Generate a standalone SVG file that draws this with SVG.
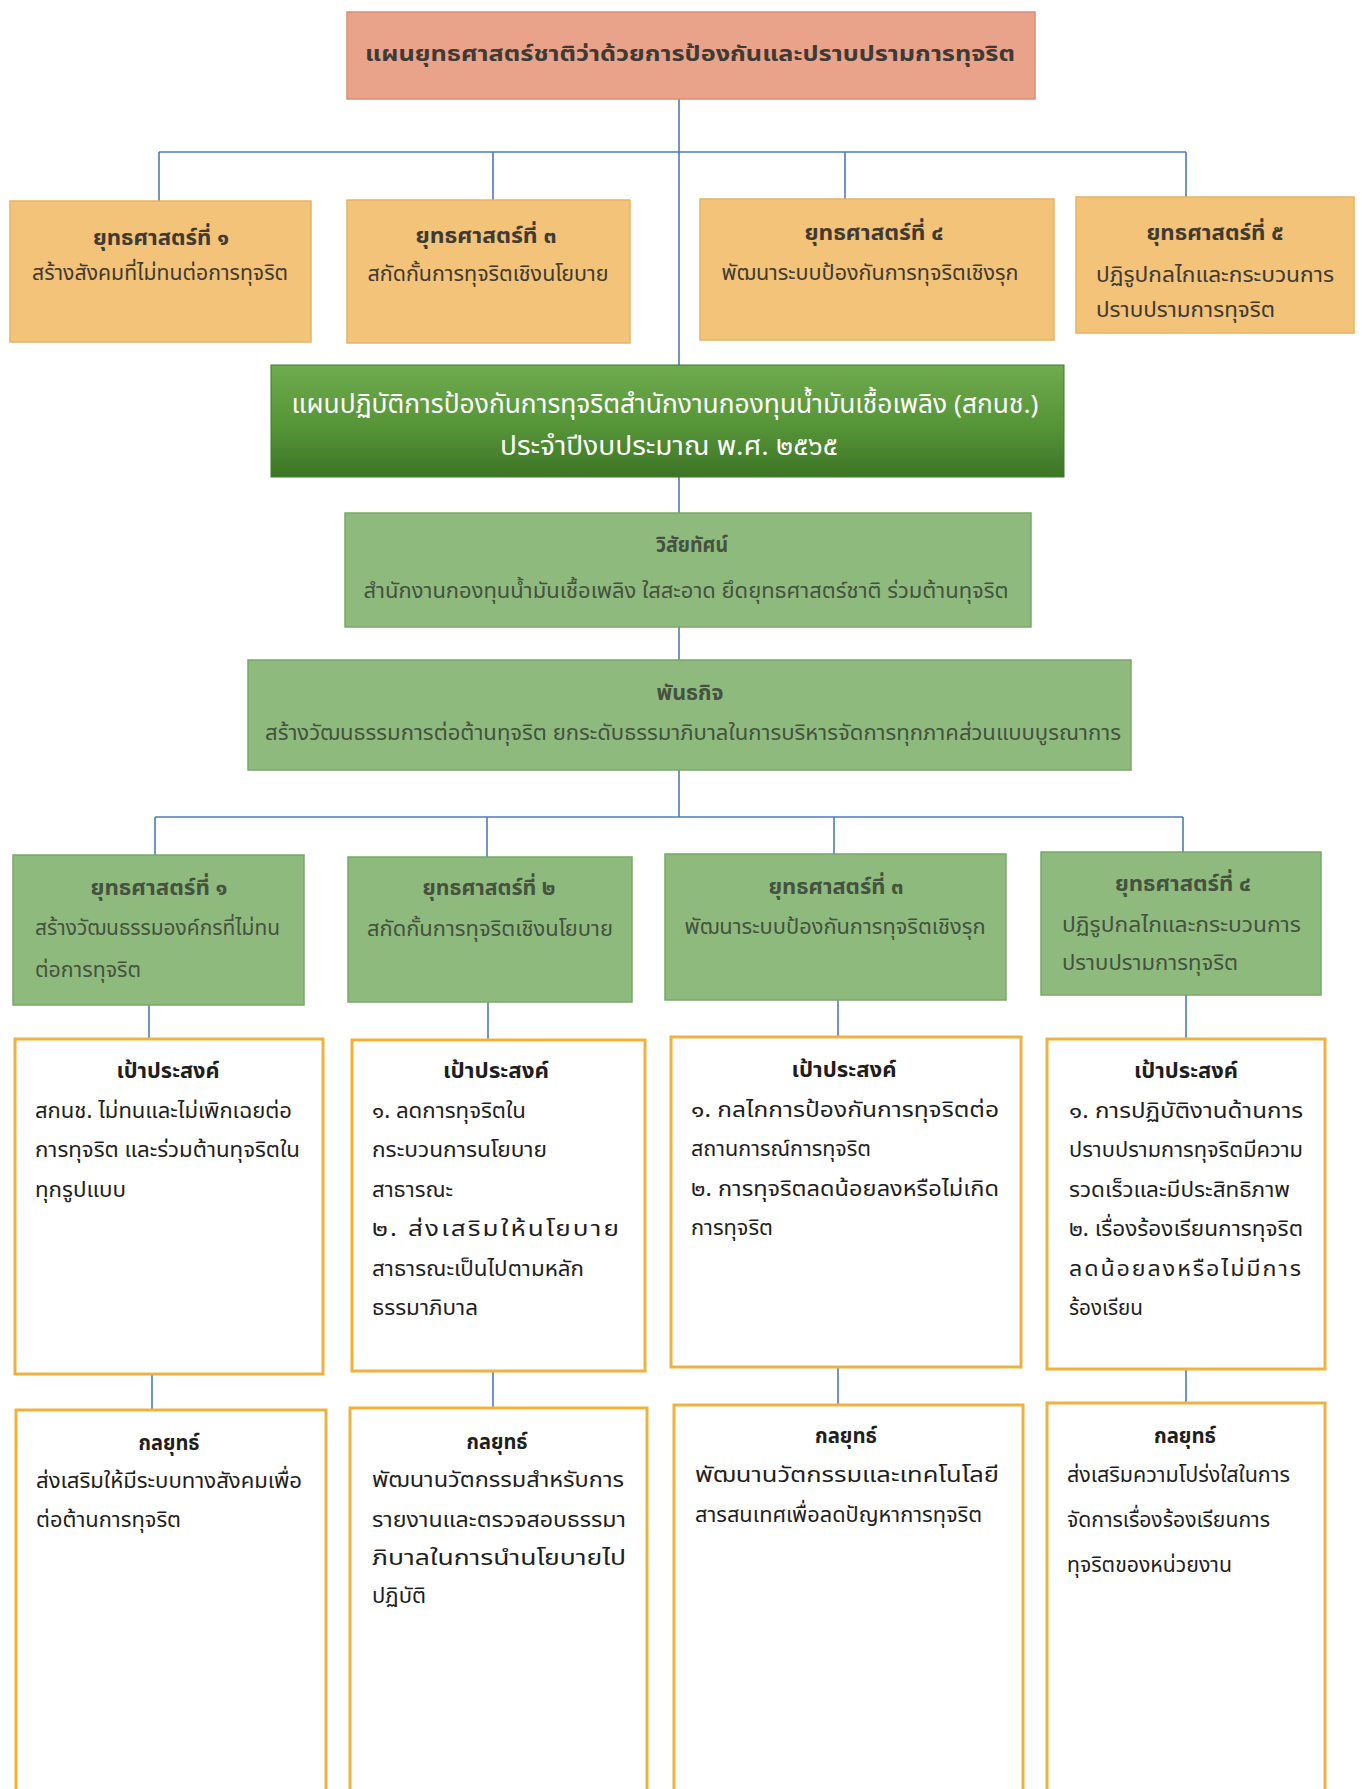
<svg xmlns="http://www.w3.org/2000/svg" width="1362" height="1789" viewBox="0 0 1362 1789">
<defs>
<linearGradient id="gDark" x1="0" y1="0" x2="0" y2="1">
<stop offset="0" stop-color="#6fab4f"/>
<stop offset="0.55" stop-color="#559437"/>
<stop offset="1" stop-color="#3c7526"/>
</linearGradient>
<style>
.ln{stroke:#4c7bbb;stroke-width:1.6;fill:none}
.t{font-family:"Noto Sans Thai","Noto Sans Thai Looped","Sarabun","Loma","Garuda","Tahoma","DejaVu Sans","Noto Sans",sans-serif}
.b{font-weight:bold}
.c{text-anchor:middle}
.top{fill:#e9a38b;stroke:#d88f74;stroke-width:1.5}
.or{fill:#f2c378;stroke:#e7b263;stroke-width:1.5}
.dg{fill:url(#gDark);stroke:#3f7a2a;stroke-width:1}
.lg{fill:#8fba7d;stroke:#7aa868;stroke-width:1.5}
.ob{fill:#ffffff;stroke:#f1b23d;stroke-width:3}
.to{fill:#3f3a33;font-size:21px}
.tg{fill:#44523f;font-size:21px}
.tw{fill:#ffffff;font-size:26px}
.tk{fill:#1e1e1e;font-size:22px}
.sp{letter-spacing:1.8px}
</style>
</defs>
<rect width="1362" height="1789" fill="#ffffff"/>

<g id="connectors">
<line class="ln" x1="679" y1="99" x2="679" y2="365"/>
<line class="ln" x1="159" y1="152" x2="1186" y2="152"/>
<line class="ln" x1="159" y1="152" x2="159" y2="201"/>
<line class="ln" x1="493" y1="152" x2="493" y2="200"/>
<line class="ln" x1="845" y1="152" x2="845" y2="199"/>
<line class="ln" x1="1186" y1="152" x2="1186" y2="197"/>
<line class="ln" x1="679" y1="477" x2="679" y2="513"/>
<line class="ln" x1="679" y1="627" x2="679" y2="660"/>
<line class="ln" x1="679" y1="770" x2="679" y2="817"/>
<line class="ln" x1="155" y1="817" x2="1183" y2="817"/>
<line class="ln" x1="155" y1="817" x2="155" y2="855"/>
<line class="ln" x1="487" y1="817" x2="487" y2="857"/>
<line class="ln" x1="834" y1="817" x2="834" y2="854"/>
<line class="ln" x1="1183" y1="817" x2="1183" y2="852"/>
<line class="ln" x1="149" y1="1005" x2="149" y2="1039"/>
<line class="ln" x1="488" y1="1002" x2="488" y2="1040"/>
<line class="ln" x1="838" y1="1000" x2="838" y2="1037"/>
<line class="ln" x1="1186" y1="995" x2="1186" y2="1039"/>
<line class="ln" x1="152" y1="1374" x2="152" y2="1410"/>
<line class="ln" x1="493" y1="1371" x2="493" y2="1408"/>
<line class="ln" x1="838" y1="1367" x2="838" y2="1405"/>
<line class="ln" x1="1186" y1="1369" x2="1186" y2="1403"/>
</g>

<g id="national-plan">
<rect class="top" x="347" y="12" width="688" height="87"/>
<text class="t b c to" x="690" y="61" font-size="26" textLength="650" lengthAdjust="spacingAndGlyphs">แผนยุทธศาสตร์ชาติว่าด้วยการป้องกันและปราบปรามการทุจริต</text>
</g>

<g id="nat-strategy-1">
<rect class="or" x="10" y="201" width="301" height="141"/>
<text class="t b c to" x="161" y="245" textLength="136" lengthAdjust="spacingAndGlyphs">ยุทธศาสตร์ที่ ๑</text>
<text class="t c to" x="160" y="280" textLength="256" lengthAdjust="spacingAndGlyphs">สร้างสังคมที่ไม่ทนต่อการทุจริต</text>
</g>
<g id="nat-strategy-3">
<rect class="or" x="347" y="200" width="283" height="143"/>
<text class="t b c to" x="486" y="243" textLength="141" lengthAdjust="spacingAndGlyphs">ยุทธศาสตร์ที่ ๓</text>
<text class="t c to" x="488" y="281" textLength="241" lengthAdjust="spacingAndGlyphs">สกัดกั้นการทุจริตเชิงนโยบาย</text>
</g>
<g id="nat-strategy-4">
<rect class="or" x="700" y="199" width="354" height="141"/>
<text class="t b c to" x="874" y="240" textLength="139" lengthAdjust="spacingAndGlyphs">ยุทธศาสตร์ที่ ๔</text>
<text class="t c to" x="870" y="280" textLength="297" lengthAdjust="spacingAndGlyphs">พัฒนาระบบป้องกันการทุจริตเชิงรุก</text>
</g>
<g id="nat-strategy-5">
<rect class="or" x="1076" y="197" width="278" height="136"/>
<text class="t b c to" x="1215" y="240" textLength="137" lengthAdjust="spacingAndGlyphs">ยุทธศาสตร์ที่ ๕</text>
<text class="t to" x="1096" y="282" textLength="238" lengthAdjust="spacingAndGlyphs">ปฏิรูปกลไกและกระบวนการ</text>
<text class="t to" x="1096" y="317" textLength="179" lengthAdjust="spacingAndGlyphs">ปราบปรามการทุจริต</text>
</g>

<g id="action-plan">
<rect class="dg" x="271" y="365" width="793" height="112"/>
<text class="t c tw" x="665" y="413" textLength="747" lengthAdjust="spacingAndGlyphs">แผนปฏิบัติการป้องกันการทุจริตสำนักงานกองทุนน้ำมันเชื้อเพลิง (สกนช.)</text>
<text class="t c tw" x="669" y="455" textLength="338" lengthAdjust="spacingAndGlyphs">ประจำปีงบประมาณ พ.ศ. ๒๕๖๕</text>
</g>

<g id="vision">
<rect class="lg" x="345" y="513" width="686" height="114"/>
<text class="t b c tg" x="692" y="552" textLength="72" lengthAdjust="spacingAndGlyphs">วิสัยทัศน์</text>
<text class="t c tg" x="686" y="598" textLength="645" lengthAdjust="spacingAndGlyphs">สำนักงานกองทุนน้ำมันเชื้อเพลิง ใสสะอาด ยึดยุทธศาสตร์ชาติ ร่วมต้านทุจริต</text>
</g>

<g id="mission">
<rect class="lg" x="248" y="660" width="883" height="110"/>
<text class="t b c tg" x="690" y="700" textLength="67" lengthAdjust="spacingAndGlyphs">พันธกิจ</text>
<text class="t c tg" x="693" y="740" textLength="856" lengthAdjust="spacingAndGlyphs">สร้างวัฒนธรรมการต่อต้านทุจริต ยกระดับธรรมาภิบาลในการบริหารจัดการทุกภาคส่วนแบบบูรณาการ</text>
</g>

<g id="strategy-1">
<rect class="lg" x="13" y="855" width="291" height="150"/>
<text class="t b c tg" x="159" y="895" textLength="137" lengthAdjust="spacingAndGlyphs">ยุทธศาสตร์ที่ ๑</text>
<text class="t tg" x="35" y="935" textLength="245" lengthAdjust="spacingAndGlyphs">สร้างวัฒนธรรมองค์กรที่ไม่ทน</text>
<text class="t tg" x="35" y="977" textLength="106" lengthAdjust="spacingAndGlyphs">ต่อการทุจริต</text>
</g>
<g id="strategy-2">
<rect class="lg" x="348" y="857" width="284" height="145"/>
<text class="t b c tg" x="489" y="895" textLength="133" lengthAdjust="spacingAndGlyphs">ยุทธศาสตร์ที่ ๒</text>
<text class="t c tg" x="490" y="936" textLength="246" lengthAdjust="spacingAndGlyphs">สกัดกั้นการทุจริตเชิงนโยบาย</text>
</g>
<g id="strategy-3">
<rect class="lg" x="665" y="854" width="341" height="146"/>
<text class="t b c tg" x="836" y="894" textLength="135" lengthAdjust="spacingAndGlyphs">ยุทธศาสตร์ที่ ๓</text>
<text class="t c tg" x="835" y="934" textLength="301" lengthAdjust="spacingAndGlyphs">พัฒนาระบบป้องกันการทุจริตเชิงรุก</text>
</g>
<g id="strategy-4">
<rect class="lg" x="1041" y="852" width="280" height="143"/>
<text class="t b c tg" x="1183" y="891" textLength="136" lengthAdjust="spacingAndGlyphs">ยุทธศาสตร์ที่ ๔</text>
<text class="t tg" x="1062" y="932" textLength="239" lengthAdjust="spacingAndGlyphs">ปฏิรูปกลไกและกระบวนการ</text>
<text class="t tg" x="1062" y="970" textLength="176" lengthAdjust="spacingAndGlyphs">ปราบปรามการทุจริต</text>
</g>

<g id="goal-1">
<rect class="ob" x="15" y="1039" width="308" height="335"/>
<text class="t b c tk" x="168" y="1078" textLength="103" lengthAdjust="spacingAndGlyphs">เป้าประสงค์</text>
<text class="t tk" x="35" y="1118" textLength="257" lengthAdjust="spacingAndGlyphs">สกนช. ไม่ทนและไม่เพิกเฉยต่อ</text>
<text class="t tk" x="35" y="1157" textLength="265" lengthAdjust="spacingAndGlyphs">การทุจริต และร่วมต้านทุจริตใน</text>
<text class="t tk" x="35" y="1197" textLength="91" lengthAdjust="spacingAndGlyphs">ทุกรูปแบบ</text>
</g>
<g id="goal-2">
<rect class="ob" x="352" y="1040" width="293" height="331"/>
<text class="t b c tk" x="496" y="1078" textLength="106" lengthAdjust="spacingAndGlyphs">เป้าประสงค์</text>
<text class="t tk" x="372" y="1118" textLength="154" lengthAdjust="spacingAndGlyphs">๑. ลดการทุจริตใน</text>
<text class="t tk" x="372" y="1157" textLength="175" lengthAdjust="spacingAndGlyphs">กระบวนการนโยบาย</text>
<text class="t tk" x="372" y="1197" textLength="81" lengthAdjust="spacingAndGlyphs">สาธารณะ</text>
<text class="t tk sp" x="372" y="1236" textLength="249" lengthAdjust="spacingAndGlyphs">๒. ส่งเสริมให้นโยบาย</text>
<text class="t tk" x="372" y="1276" textLength="212" lengthAdjust="spacingAndGlyphs">สาธารณะเป็นไปตามหลัก</text>
<text class="t tk" x="372" y="1315" textLength="106" lengthAdjust="spacingAndGlyphs">ธรรมาภิบาล</text>
</g>
<g id="goal-3">
<rect class="ob" x="671" y="1037" width="350" height="330"/>
<text class="t b c tk" x="844" y="1077" textLength="105" lengthAdjust="spacingAndGlyphs">เป้าประสงค์</text>
<text class="t tk" x="691" y="1117" textLength="308" lengthAdjust="spacingAndGlyphs">๑.  กลไกการป้องกันการทุจริตต่อ</text>
<text class="t tk" x="691" y="1156" textLength="180" lengthAdjust="spacingAndGlyphs">สถานการณ์การทุจริต</text>
<text class="t tk" x="691" y="1196" textLength="308" lengthAdjust="spacingAndGlyphs">๒.  การทุจริตลดน้อยลงหรือไม่เกิด</text>
<text class="t tk" x="691" y="1235" textLength="82" lengthAdjust="spacingAndGlyphs">การทุจริต</text>
</g>
<g id="goal-4">
<rect class="ob" x="1047" y="1039" width="278" height="330"/>
<text class="t b c tk" x="1186" y="1078" textLength="104" lengthAdjust="spacingAndGlyphs">เป้าประสงค์</text>
<text class="t tk" x="1069" y="1118" textLength="234" lengthAdjust="spacingAndGlyphs">๑. การปฏิบัติงานด้านการ</text>
<text class="t tk" x="1069" y="1157" textLength="234" lengthAdjust="spacingAndGlyphs">ปราบปรามการทุจริตมีความ</text>
<text class="t tk" x="1069" y="1197" textLength="221" lengthAdjust="spacingAndGlyphs">รวดเร็วและมีประสิทธิภาพ</text>
<text class="t tk" x="1069" y="1236" textLength="234" lengthAdjust="spacingAndGlyphs">๒. เรื่องร้องเรียนการทุจริต</text>
<text class="t tk sp" x="1069" y="1276" textLength="234" lengthAdjust="spacingAndGlyphs">ลดน้อยลงหรือไม่มีการ</text>
<text class="t tk" x="1069" y="1315" textLength="74" lengthAdjust="spacingAndGlyphs">ร้องเรียน</text>
</g>

<g id="tactic-1">
<rect class="ob" x="16" y="1410" width="310" height="400"/>
<text class="t b c tk" x="169" y="1450" textLength="61" lengthAdjust="spacingAndGlyphs">กลยุทธ์</text>
<text class="t tk" x="36" y="1488" textLength="266" lengthAdjust="spacingAndGlyphs">ส่งเสริมให้มีระบบทางสังคมเพื่อ</text>
<text class="t tk" x="36" y="1527" textLength="145" lengthAdjust="spacingAndGlyphs">ต่อต้านการทุจริต</text>
</g>
<g id="tactic-2">
<rect class="ob" x="350" y="1408" width="297" height="400"/>
<text class="t b c tk" x="497" y="1449" textLength="61" lengthAdjust="spacingAndGlyphs">กลยุทธ์</text>
<text class="t tk" x="372" y="1487" textLength="252" lengthAdjust="spacingAndGlyphs">พัฒนานวัตกรรมสำหรับการ</text>
<text class="t tk" x="372" y="1527" textLength="254" lengthAdjust="spacingAndGlyphs">รายงานและตรวจสอบธรรมา</text>
<text class="t tk" x="372" y="1565" textLength="254" lengthAdjust="spacingAndGlyphs">ภิบาลในการนำนโยบายไป</text>
<text class="t tk" x="372" y="1603" textLength="54" lengthAdjust="spacingAndGlyphs">ปฏิบัติ</text>
</g>
<g id="tactic-3">
<rect class="ob" x="674" y="1405" width="349" height="400"/>
<text class="t b c tk" x="846" y="1443" textLength="62" lengthAdjust="spacingAndGlyphs">กลยุทธ์</text>
<text class="t tk" x="695" y="1482" textLength="304" lengthAdjust="spacingAndGlyphs">พัฒนานวัตกรรมและเทคโนโลยี</text>
<text class="t tk" x="695" y="1522" textLength="287" lengthAdjust="spacingAndGlyphs">สารสนเทศเพื่อลดปัญหาการทุจริต</text>
</g>
<g id="tactic-4">
<rect class="ob" x="1047" y="1403" width="278" height="400"/>
<text class="t b c tk" x="1185" y="1443" textLength="62" lengthAdjust="spacingAndGlyphs">กลยุทธ์</text>
<text class="t tk" x="1067" y="1482" textLength="223" lengthAdjust="spacingAndGlyphs">ส่งเสริมความโปร่งใสในการ</text>
<text class="t tk" x="1067" y="1527" textLength="203" lengthAdjust="spacingAndGlyphs">จัดการเรื่องร้องเรียนการ</text>
<text class="t tk" x="1067" y="1572" textLength="165" lengthAdjust="spacingAndGlyphs">ทุจริตของหน่วยงาน</text>
</g>
</svg>
